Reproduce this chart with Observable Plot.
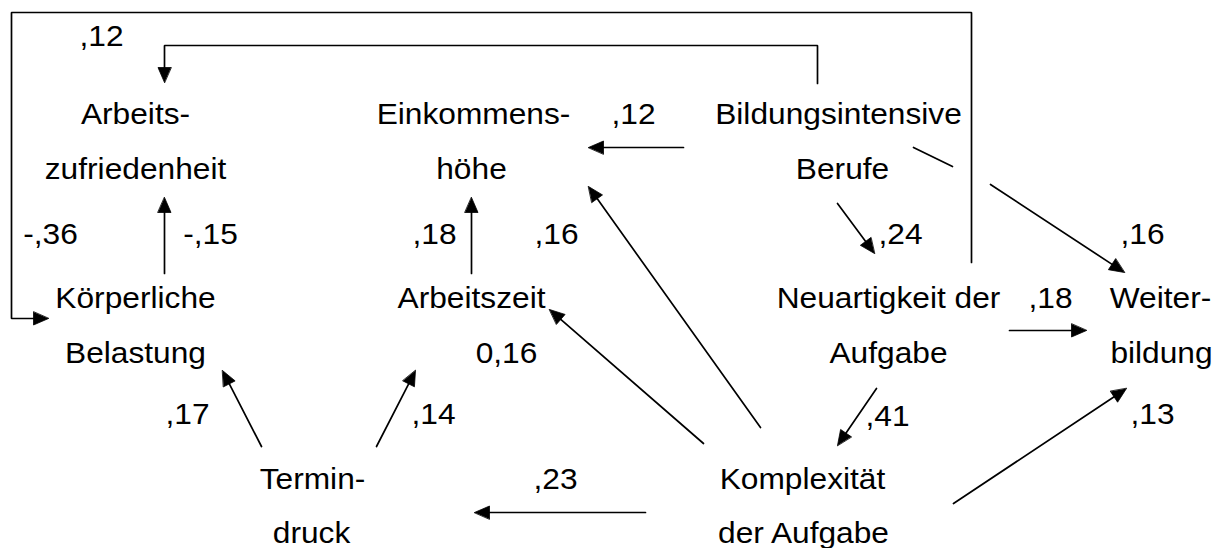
<!DOCTYPE html>
<html>
<head>
<meta charset="utf-8">
<script src="https://cdn.jsdelivr.net/npm/d3@7"></script>
<script src="https://cdn.jsdelivr.net/npm/@observablehq/plot@0.6"></script>
<style>
  html, body { margin: 0; padding: 0; background: #fff; }
  #chart svg { display: block; }
</style>
</head>
<body>
<div id="chart"></div>
<script>
// Variable names (one entry per text line) and their layout
const nodeLines = ["Arbeits-", "zufriedenheit", "Einkommens-", "höhe", "Bildungsintensive", "Berufe",
  "Körperliche", "Belastung", "Arbeitszeit", "Neuartigkeit der", "Aufgabe", "Weiter-", "bildung",
  "Termin-", "druck", "Komplexität", "der Aufgabe"];
const nodeX = [135, 135, 473, 471, 838, 842, 135, 135, 471, 888, 888, 1160, 1161, 312, 311, 802, 803];
const nodeY = [123, 178, 123, 178, 123, 178, 307, 362, 307, 307, 362, 307, 362, 488, 542, 488, 542];

// Path coefficients and their label positions
const coefLabels = [",12", ",12", "-,36", "-,15", ",18", ",16", ",24", ",16", ",18", "0,16", ",17", ",14", ",41", ",13", ",23"];
const coefX = [101, 633, 50, 210, 434, 556, 900, 1142, 1050, 506, 187, 433, 887, 1152, 555];
const coefY = [45, 123, 243, 243, 243, 243, 243, 243, 307, 362, 423, 423, 425, 423, 488];

// Paths (polylines) between variables; last point is the arrow tip when head = true
const pathPoints = [
  [[971, 262], [971, 12], [11, 12], [11, 318], [48, 318]],   // Neuartigkeit -> Körperliche Belastung
  [[817, 83], [817, 45], [164, 45], [164, 82]],              // Bildungsintensive -> Arbeitszufriedenheit
  [[683, 147], [588, 147]],                                  // Bildungsintensive -> Einkommenshöhe
  [[913, 147], [952, 166]],                                  // Bildungsintensive -> Weiterbildung (part 1)
  [[990, 184], [1124, 272]],                                 // Bildungsintensive -> Weiterbildung (part 2)
  [[837, 203], [874, 253]],                                  // Berufe -> Neuartigkeit
  [[164, 273], [164, 197]],                                  // Körperliche -> Arbeitszufriedenheit
  [[471, 273], [471, 197]],                                  // Arbeitszeit -> Einkommenshöhe
  [[760, 427], [588, 186]],                                  // Komplexität -> Einkommenshöhe
  [[703, 443], [549, 309]],                                  // Komplexität -> Arbeitszeit
  [[261, 446], [222, 370]],                                  // Termindruck -> Körperliche
  [[376, 446], [415, 370]],                                  // Termindruck -> Arbeitszeit
  [[645, 512], [474, 512]],                                  // Komplexität -> Termindruck
  [[876, 388], [837, 445]],                                  // Neuartigkeit -> Komplexität
  [[1009, 330], [1086, 330]],                                // Neuartigkeit -> Weiterbildung
  [[953, 503], [1126, 388]]                                  // Komplexität -> Weiterbildung
];
const pathHead = [true, true, true, false, true, true, true, true, true, true, true, true, true, true, true, true];

// Build tables for the library
const headLen = 15, headHalf = 6.5;
const lineRows = [];
const headRows = [];
pathPoints.forEach((pts, i) => {
  const n = pts.length;
  let last = pts[n - 1];
  if (pathHead[i]) {
    const [tx, ty] = pts[n - 1];
    const [px, py] = pts[n - 2];
    const d = Math.hypot(tx - px, ty - py);
    const ux = (tx - px) / d, uy = (ty - py) / d;
    const bx = tx - headLen * ux, by = ty - headLen * uy;
    const nx = -uy, ny = ux;
    headRows.push({id: i, x: tx, y: ty});
    headRows.push({id: i, x: bx + headHalf * nx, y: by + headHalf * ny});
    headRows.push({id: i, x: bx - headHalf * nx, y: by - headHalf * ny});
    last = [bx + 2 * ux, by + 2 * uy];
  }
  pts.slice(0, n - 1).forEach(([x, y]) => lineRows.push({id: i, x, y}));
  lineRows.push({id: i, x: last[0], y: last[1]});
});

const nodeRows = nodeLines.map((t, i) => ({t, x: nodeX[i], y: nodeY[i]}));
const coefRows = coefLabels.map((t, i) => ({t, x: coefX[i], y: coefY[i]}));

const W = 1218, H = 548;
const font = "'Liberation Sans', Arial, Helvetica, sans-serif";

const svg = Plot.plot({
  width: W,
  height: H,
  margin: 0,
  x: {domain: [0, W], range: [0, W], axis: null},
  y: {domain: [0, H], range: [0, H], axis: null},
  style: {background: "#fff", fontFamily: font},
  marks: [
    Plot.line(lineRows, {x: "x", y: "y", z: "id", stroke: "#000", strokeWidth: 1.7, strokeLinejoin: "miter"}),
    Plot.line(headRows, {x: "x", y: "y", z: "id", curve: "linear-closed", fill: "#000", stroke: "#000", strokeWidth: 0.8}),
    Plot.text(nodeRows, {x: "x", y: "y", text: "t", fontSize: 29.5, lineAnchor: "bottom", textAnchor: "middle", fill: "#000", fontFamily: font}),
    Plot.text(coefRows, {x: "x", y: "y", text: "t", fontSize: 29.5, lineAnchor: "bottom", textAnchor: "middle", fill: "#000", fontFamily: font})
  ]
});

// Slightly wider glyphs, as in the original drawing
svg.querySelectorAll('g[aria-label="text"] text').forEach(t => {
  let tr = t.getAttribute("transform");
  if (!tr) {
    const x = t.getAttribute("x") || 0, y = t.getAttribute("y") || 0;
    t.removeAttribute("x"); t.removeAttribute("y");
    tr = `translate(${x},${y})`;
  }
  t.setAttribute("transform", tr + " scale(1.075,1)");
});

document.getElementById("chart").appendChild(svg);
</script>
</body>
</html>
